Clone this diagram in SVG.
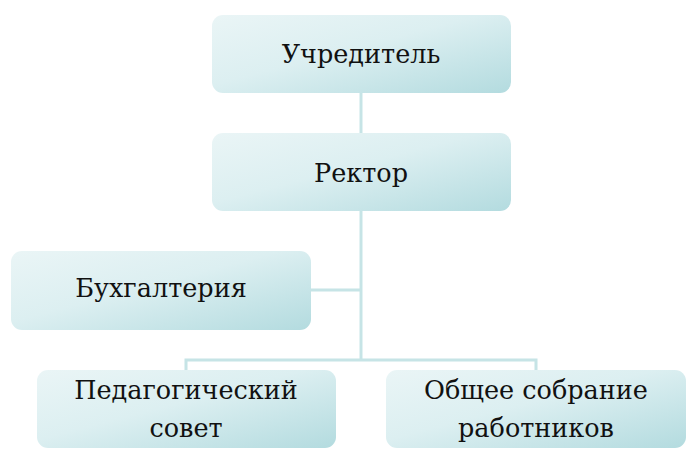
<svg xmlns="http://www.w3.org/2000/svg" width="700" height="465" viewBox="0 0 700 465">
<defs>
<linearGradient id="g" x1="0" y1="0" x2="1" y2="1">
<stop offset="0" stop-color="#eaf5f6"/>
<stop offset="0.45" stop-color="#dceff1"/>
<stop offset="1" stop-color="#b3dbdf"/>
</linearGradient>
<style>
.box{fill:url(#g);}
.t{font-family:"DejaVu Serif","Liberation Serif",serif;font-size:25.5px;fill:#111;text-anchor:middle;}
.c{stroke:#c6e4e6;stroke-width:3;fill:none;}
</style>
</defs>
<rect width="700" height="465" fill="#fff"/>
<g id="connectors">
<path class="c" d="M361,93 V133"/>
<path class="c" d="M361,211 V360"/>
<path class="c" d="M311,290 H361"/>
<path class="c" d="M186,370 V360 H536 V370"/>
</g>
<g id="uchreditel">
<rect class="box" x="212" y="15" width="299" height="78" rx="11"/>
<text class="t" x="361" y="63">Учредитель</text>
</g>
<g id="rektor">
<rect class="box" x="212" y="133" width="299" height="78" rx="11"/>
<text class="t" x="361" y="182">Ректор</text>
</g>
<g id="buhgalteriya">
<rect class="box" x="11" y="251" width="300" height="79" rx="11"/>
<text class="t" x="161" y="297">Бухгалтерия</text>
</g>
<g id="pedsovet">
<rect class="box" x="37" y="370" width="299" height="78" rx="11"/>
<text class="t" x="186" y="399">Педагогический</text>
<text class="t" x="186" y="437">совет</text>
</g>
<g id="sobranie">
<rect class="box" x="386" y="370" width="300" height="78" rx="11"/>
<text class="t" x="536" y="399">Общее собрание</text>
<text class="t" x="536" y="437">работников</text>
</g>
</svg>
